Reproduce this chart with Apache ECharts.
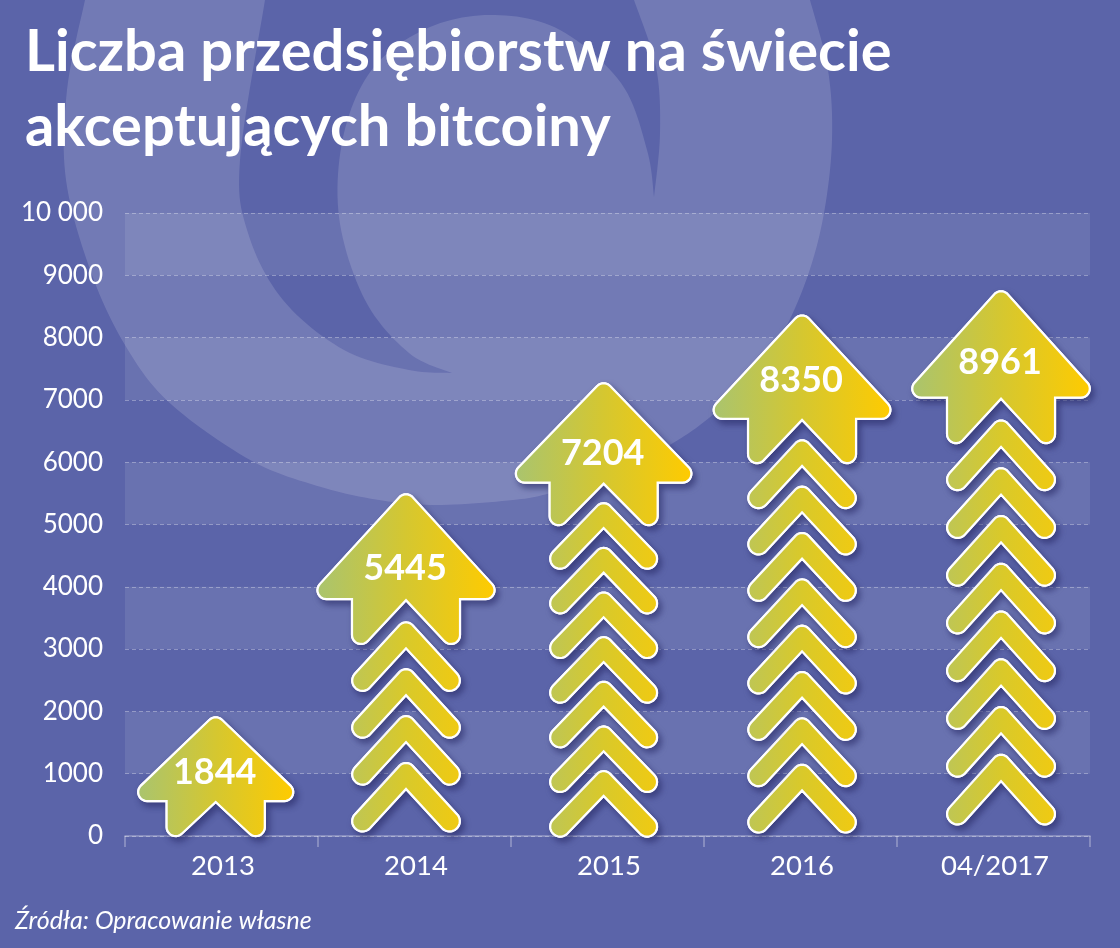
<!DOCTYPE html>
<html><head><meta charset="utf-8">
<style>html,body{margin:0;padding:0;background:#5b64a9}#c{width:1120px;height:948px}</style>
<script src="https://cdn.jsdelivr.net/npm/echarts@6/dist/echarts.min.js"></script>
</head><body><div id="c"></div>
<script>
const titleText = 'Liczba przedsiębiorstw na świecie\nakceptujących bitcoiny';
const sourceText = 'Źródła: Opracowanie własne';
const categories = ['2013', '2014', '2015', '2016', '04/2017'];
const values = [1844, 5445, 7204, 8350, 8961];
// levels, on the value axis
const arrowTops = [1910, 5490, 7270, 8360, 8750];
const arrowBases = [0, 3100, 5008, 6003, 6324];
const chevronCounts = [0, 4, 7, 8, 8];
const chevronTops = [0, 3435, 5345, 6356, 6676];
const chevronBases = [0, 64, -16, 48, 176];
const labelLevels = [1015, 4300, 6135, 7320, 7595];
// where each arrow sits, in category units (arrows are not exactly centred on their slots)
const arrowSlots = [-0.03, 0.956, 1.98, 3.008, 4.039];

const BG = '#5b64a9', FONT = 'Lato';

function rounded(verts, radii) {
  const pts = [], n = verts.length;
  for (let i = 0; i < n; i++) {
    const p = verts[i], a = verts[(i + n - 1) % n], b = verts[(i + 1) % n], r = radii[i];
    if (!r) { pts.push(p); continue; }
    const ua = [a[0]-p[0], a[1]-p[1]], ub = [b[0]-p[0], b[1]-p[1]];
    const la = Math.hypot(ua[0], ua[1]), lb = Math.hypot(ub[0], ub[1]);
    ua[0]/=la; ua[1]/=la; ub[0]/=lb; ub[1]/=lb;
    const ang = Math.acos(ua[0]*ub[0]+ua[1]*ub[1]);
    const d = r/Math.tan(ang/2);
    const bis = [ua[0]+ub[0], ua[1]+ub[1]], bl = Math.hypot(bis[0], bis[1]);
    const c = [p[0]+bis[0]/bl*r/Math.sin(ang/2), p[1]+bis[1]/bl*r/Math.sin(ang/2)];
    const s = [p[0]+ua[0]*d, p[1]+ua[1]*d], e = [p[0]+ub[0]*d, p[1]+ub[1]*d];
    let a0 = Math.atan2(s[1]-c[1], s[0]-c[0]), a1 = Math.atan2(e[1]-c[1], e[0]-c[0]);
    let da = a1-a0;
    while (da > Math.PI) da -= 2*Math.PI;
    while (da < -Math.PI) da += 2*Math.PI;
    for (let k = 0; k <= 10; k++) {
      const t = a0+da*k/10;
      pts.push([c[0]+r*Math.cos(t), c[1]+r*Math.sin(t)]);
    }
  }
  return pts;
}
function grad(c0, c1, c2) {
  return {type:'linear', x:0, y:0, x2:1, y2:0, colorStops:[{offset:0,color:c0},{offset:.5,color:c1},{offset:1,color:c2}]};
}
function layered(points, fill) {
  return [
    {type:'polygon', shape:{points}, style:{fill:'#fff', stroke:'#fff', lineWidth:2.2,
      shadowBlur:6, shadowOffsetX:3, shadowOffsetY:4, shadowColor:'rgba(38,40,100,0.6)'}},
    {type:'polygon', shape:{points}, style:{fill, stroke:'#fff', lineWidth:2.2}}
  ];
}

function mirror(cx, y0, half, notch, sx, sy) {
  const right = half.map(v => [cx+v[0]*sx, y0+v[1]*sy]);
  const left = half.slice(1).reverse().map(v => [cx-v[0]*sx, y0+v[1]*sy]);
  const verts = right.concat([[cx, y0+notch*sy]], left);
  const radii = half.map(v => v[2]).concat([0], half.slice(1).reverse().map(v => v[2]));
  return rounded(verts, radii);
}
function headPoly(cx, y0, w, h) {
  return mirror(cx, y0, [[0,-4,9],[100,106,9],[54,106,0],[54,165,9]], 107, w/176, h/150);
}
function chevPoly(cx, y0, h) {
  return mirror(cx, y0, [[0,-4,9],[58,59.8,10],[42.8,73.5,10]], 26.5, 1, h/70);
}
function renderArrow(params, api) {
  const i = params.dataIndex;
  const cx = api.coord([arrowSlots[i], 0])[0];
  let kids = [];
  const n = chevronCounts[i];
  if (n) {
    const top = api.coord([0, chevronTops[i]])[1], bot = api.coord([0, chevronBases[i]])[1];
    const pitch = (bot - top)/(n + 0.48), h = pitch*1.48;
    for (let k = n-1; k >= 0; k--) {
      kids = kids.concat(layered(chevPoly(cx, top + k*pitch, h), grad('#bec655','#d9c92a','#f0ca12')));
    }
  }
  const y0 = api.coord([0, arrowTops[i]])[1], y1 = api.coord([0, arrowBases[i]])[1];
  const small = y1 - y0 < 130;
  kids = kids.concat(layered(headPoly(cx, y0, small ? 160 : 176, y1-y0), grad('#a9c46f','#d5c730','#ffcb00')));
  kids.push({type:'text', style:{text:String(values[i]), x:cx-1, y:api.coord([0, labelLevels[i]])[1],
    align:'center', verticalAlign:'middle', fill:'#fff', font:'bold 36px '+FONT}});
  return {type:'group', children:kids};
}

// background swirl outlines, sampled through Catmull-Rom
function spline(p) {
  const out = [];
  for (let i = 0; i < p.length-1; i++) {
    const a = p[Math.max(i-1,0)], b = p[i], c = p[i+1], d = p[Math.min(i+2,p.length-1)];
    for (let k = 0; k < 12; k++) {
      const t = k/12, t2 = t*t, t3 = t2*t;
      out.push([0,1].map(j => .5*(2*b[j]+(c[j]-a[j])*t+(2*a[j]-5*b[j]+4*c[j]-d[j])*t2+(3*b[j]-a[j]-3*c[j]+d[j])*t3)));
    }
  }
  out.push(p[p.length-1]);
  return out;
}
const blob = spline([[85,0],[67,90],[66,180],[92,275],[128,350],[172,405],[252,461],[321,487],[379,500],[436,505],[513,500],[551,493],[610,475],[673,443],[715,413],[755,375],[783,333],[808,275],[824,213],[832,140],[828,70],[810,0]]);
const swirl = [].concat(
  spline([[265,0],[240,160],[248,233],[283,300],[344,350],[409,370],[452,373]]),
  spline([[452,373],[409,353],[365,300],[339,217],[344,133],[374,67],[430,27],[495,15],[560,30],[621,83],[647,150],[654,197]]),
  spline([[654,197],[660,133],[656,67],[634,0]])
);

const chart = echarts.init(document.getElementById('c'), null, {renderer:'canvas', width:1120, height:948});
chart.setOption({
  animation:false,
  backgroundColor:BG,
  title:[
    {text:titleText, left:20, top:10, textStyle:{color:'#fff', fontFamily:FONT, fontWeight:'bold', fontSize:57.8, lineHeight:75}},
    {text:sourceText, left:10, top:903, textStyle:{color:'#fff', fontFamily:FONT, fontWeight:'normal', fontStyle:'italic', fontSize:25}}
  ],
  graphic:[
    {type:'polygon', z:-20, silent:true, shape:{points:blob}, style:{fill:'rgba(255,255,255,0.145)'}},
    {type:'polygon', z:-19, silent:true, shape:{points:swirl}, style:{fill:BG}}
  ],
  grid:{left:125, right:30, top:213, bottom:112},
  xAxis:[
    {type:'category', data:categories,
     axisLine:{lineStyle:{color:'rgba(255,255,255,0.35)', width:1.5}},
     axisTick:{show:true, length:11, lineStyle:{color:'rgba(255,255,255,0.35)', width:1.5}},
     axisLabel:{color:'#fff', fontFamily:FONT, fontSize:27.5, margin:16, padding:[0,0,0,3]}},
    {type:'value', min:-0.5, max:4.5, show:false, splitLine:{show:false}}
  ],
  yAxis:{type:'value', min:0, max:10000, interval:1000,
     axisLine:{show:false}, axisTick:{show:false},
     axisLabel:{color:'#fff', fontFamily:FONT, fontSize:26, margin:22,
       formatter:v => v === 10000 ? '10 000' : String(v)},
     splitLine:{show:true, lineStyle:{color:'rgba(255,255,255,0.32)', type:[4,3], width:1}},
     splitArea:{show:true, areaStyle:{color:['rgba(255,255,255,0)','rgba(255,255,255,0.09)']}}},
  series:[{
    type:'custom', xAxisIndex:1, clip:false, z:5,
    renderItem:renderArrow,
    encode:{x:0, y:1},
    data:categories.map((c,i)=>[arrowSlots[i], values[i]])
  }]
});
</script></body></html>
